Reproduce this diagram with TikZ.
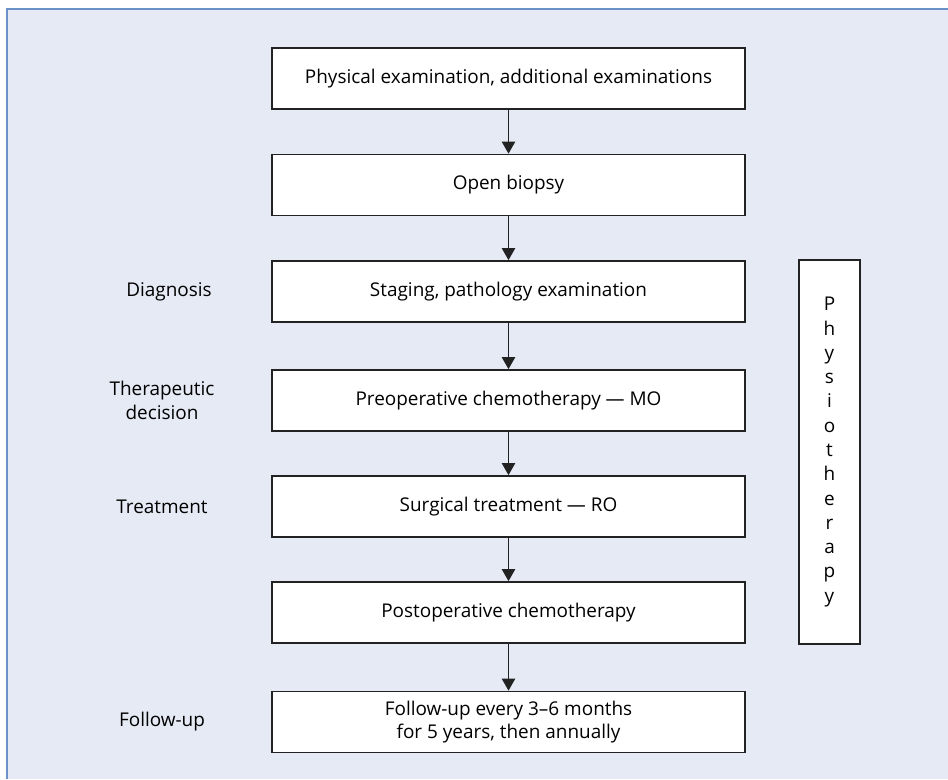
\documentclass[tikz,border=0pt]{standalone}
\usepackage{fontspec}
\setmainfont{Open Sans}
\usetikzlibrary{arrows.meta}

\definecolor{panelfill}{HTML}{E6EAF5}
\definecolor{panelline}{HTML}{6C93C9}
\definecolor{boxline}{HTML}{222222}

\tikzset{
  stagebox/.style={draw=boxline, line width=1.3pt, fill=white,
    minimum width=354.75pt, minimum height=45.75pt, align=center,
    font=\fontsize{14.2}{17.5}\selectfont},
  phasetext/.style={align=center, font=\fontsize{14.2}{17.5}\selectfont},
  flowarrow/.style={draw=boxline, line width=0.9pt,
    -{Triangle[length=9pt,width=10pt]}}
}

\begin{document}
\begin{tikzpicture}[x=0.75pt,y=-0.75pt]
    % Page size and the shaded panel
    \useasboundingbox (0,0) rectangle (948,779);
    \fill[panelfill] (7,9) rectangle (948,779);
    \draw[panelline, line width=1.5pt] (7,779) -- (7,9) -- (948,9);

    % Main chain of steps
    \node[stagebox] (exam)    at (508.5,78.5)  {Physical examination, additional examinations};
    \node[stagebox] (biopsy)  at (508.5,185)   {Open biopsy};
    \node[stagebox] (staging) at (508.5,291.5) {Staging, pathology examination};
    \node[stagebox] (preop)   at (508.5,400.5) {Preoperative chemotherapy --- MO};
    \node[stagebox] (surgery) at (508.5,506.5) {Surgical treatment --- RO};
    \node[stagebox] (postop)  at (508.5,612.5) {Postoperative chemotherapy};
    \node[stagebox] (follow)  at (508.5,722)   {Follow-up every 3--6 months\\for 5 years, then annually};

    % Arrows between the steps
    \draw[flowarrow] (exam) -- (biopsy);
    \draw[flowarrow] (biopsy) -- (staging);
    \draw[flowarrow] (staging) -- (preop);
    \draw[flowarrow] (preop) -- (surgery);
    \draw[flowarrow] (surgery) -- (postop);
    \draw[flowarrow] (postop) -- (follow);

    % Physiotherapy runs alongside
    \node[draw=boxline, line width=1.3pt, fill=white, minimum width=45.75pt,
          minimum height=288pt, align=center,
          font=\fontsize{14.2}{18.2}\selectfont] (physio) at (829.5,452)
          {P\\h\\y\\s\\i\\o\\t\\h\\e\\r\\a\\p\\y};

    % Phase labels on the left
    \node[phasetext] (diag)  at (169,291.5) {Diagnosis};
    \node[phasetext] (decis) at (162,400.5) {Therapeutic\\decision};
    \node[phasetext] (treat) at (162,506.5) {Treatment};
    \node[phasetext] (fup)   at (162,722)   {Follow-up};

\end{tikzpicture}
\end{document}
